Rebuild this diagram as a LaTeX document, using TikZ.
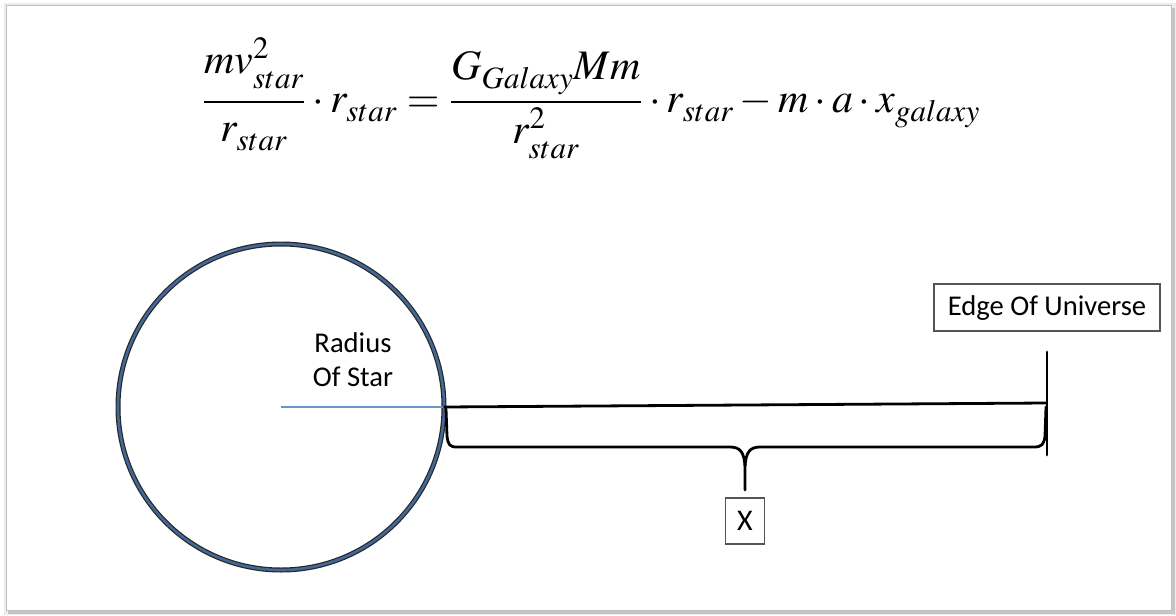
\documentclass[tikz,border=0pt]{standalone}
\usepackage{mathptmx}
\usepackage[no-math]{fontspec}
\setmainfont{Carlito}
\DeclareMathSizes{21}{21}{15.5}{11.5}
\usetikzlibrary{positioning}
\definecolor{ringblue}{RGB}{66,104,152}
\definecolor{radblue}{RGB}{104,148,202}
\definecolor{boxgray}{RGB}{85,85,85}
\newcommand{\lowsub}[1]{_{\mathstrut #1}}
\tikzset{
    lbl/.style={font=\fontsize{14.3}{17}\selectfont, align=center, inner sep=0pt},
    lblbox/.style={lbl, draw=boxgray, line width=0.8pt},
    bar/.style={line width=1.4pt, line cap=round, line join=round},
}

\begin{document}
\begin{tikzpicture}[x=0.5pt, y=-0.5pt]
    \useasboundingbox (0,0) rectangle (1176,615);

    % frame with its shadow
    \fill[gray!15] (4,3) rectangle (1176,615);
    \fill[gray!45] (8,8) rectangle (1175,614);
    \filldraw[fill=white, draw=gray!50, line width=0.4pt] (6,5) rectangle (1171,610);

    % equation
    \node (eqn) at (591,102) {\fontsize{21}{25}\selectfont
        $\displaystyle \frac{mv\lowsub{star}^{2}}{r\lowsub{star}}\cdot r\lowsub{star}
        = \frac{G\lowsub{Galaxy}Mm}{r\lowsub{star}^{2}}\cdot r\lowsub{star} - m\cdot a\cdot x\lowsub{galaxy}$};

    % the star
    \node[circle, draw=black!85, double=ringblue, line width=0.6pt, double distance=1.3pt,
          minimum size=163pt, inner sep=0pt] (star) at (281,407) {};
    \node[lbl] (radius) at (353,360) {Radius\\Of Star};
    \draw[radblue, line width=1pt] (star.center) -- (star.east);

    % distance to the edge
    \coordinate (edgetop) at (1047,352);
    \coordinate (edgebot) at (1047,455);
    \coordinate (edgemid) at (1046,403);
    \draw[bar] (edgetop) -- (edgebot);
    \draw[bar] (star.east) -- (edgemid);
    \node[lblbox, minimum width=113pt, minimum height=23.5pt, above=10pt of edgetop] (edge) {Edge Of Universe};

    % brace
    \coordinate (bl) at (446,409);
    \coordinate (br) at (1046,407);
    \coordinate (xtip) at (745,490);
    \draw[bar] (bl) -- (447,436) .. controls (448,445) and (450,447) .. (457,447)
        -- (730,447) .. controls (740,447) and (744,452) .. (745,466) -- (xtip);
    \draw[bar] (745,466) .. controls (746,452) and (750,447) .. (760,447)
        -- (1034,447) .. controls (1042,447) and (1044,444) .. (1045,436) -- (br);
    \node[lblbox, font=\fontsize{15}{18}\selectfont, minimum width=19.5pt, minimum height=23pt,
          below=3.5pt of xtip] (xbox) {X};
\end{tikzpicture}
\end{document}
